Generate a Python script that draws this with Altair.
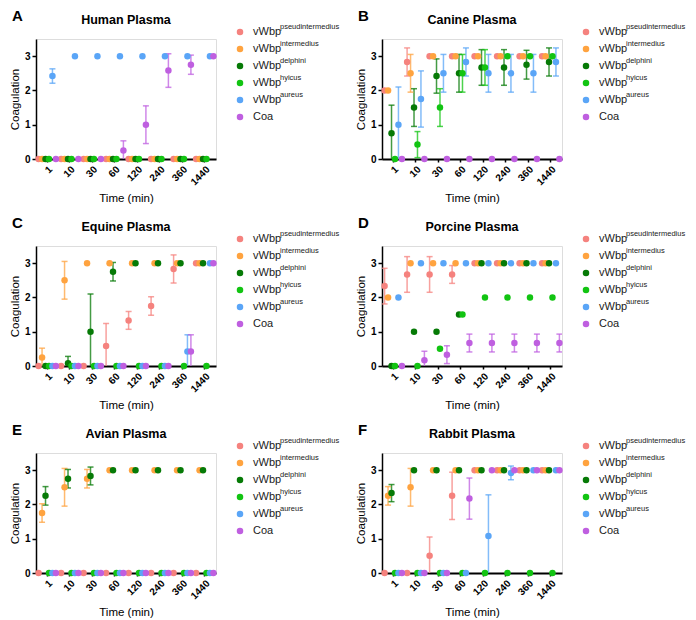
import altair as alt
import pandas as pd

FONT = "Liberation Sans"

times = ["1", "10", "30", "60", "120", "240", "360", "1440"]
series = ["pseudintermedius", "intermedius", "delphini", "hyicus", "aureus", "Coa"]
label_main = ["vWbp", "vWbp", "vWbp", "vWbp", "vWbp", "Coa"]
label_sup = ["pseudintermedius", "intermedius", "delphini", "hyicus", "aureus", ""]
colors = ["#F5827E", "#FFA33F", "#067A06", "#12C412", "#5AA5F7", "#BF5FE0"]
letters = ["A", "B", "C", "D", "E", "F"]
titles = ["Human Plasma", "Canine Plasma", "Equine Plasma",
          "Porcine Plasma", "Avian Plasma", "Rabbit Plasma"]

# rows: pseudintermedius, intermedius, delphini, hyicus, aureus, Coa ; columns: times
human_mean = [
    [0, 0, 0, 0, 0, 0, 0, 0],
    [0, 0, 0, 0, 0, 0, 0, 0],
    [0, 0, 0, 0, 0, 0, 0, 0],
    [0, 0, 0, 0, 0, 0, 0, 0],
    [2.42, 3, 3, 3, 3, 3, 3, 3],
    [0, 0, 0, 0.25, 1.0, 2.58, 2.75, 3],
]
human_err = [
    [0, 0, 0, 0, 0, 0, 0, 0],
    [0, 0, 0, 0, 0, 0, 0, 0],
    [0, 0, 0, 0, 0, 0, 0, 0],
    [0, 0, 0, 0, 0, 0, 0, 0],
    [0.21, 0, 0, 0, 0, 0, 0, 0],
    [0, 0, 0, 0.28, 0.55, 0.49, 0.28, 0],
]
canine_mean = [
    [2, 2.83, 3, 3, 3, 3, 3, 3],
    [2, 2.5, 3, 3, 3, 3, 3, 3],
    [0.75, 1.5, 2.42, 2.5, 2.67, 2.67, 2.75, 2.83],
    [0, 0.42, 1.5, 2.5, 2.67, 3, 3, 3],
    [1.0, 1.75, 2.5, 2.83, 2.5, 2.5, 2.5, 2.83],
    [0, 0, 0, 0, 0, 0, 0, 0],
]
canine_err = [
    [0, 0.41, 0, 0, 0, 0, 0, 0],
    [0, 0.55, 0, 0, 0, 0, 0, 0],
    [0.82, 0.55, 0.5, 0.55, 0.52, 0.52, 0.42, 0.41],
    [0, 0.38, 0.55, 0.55, 0.52, 0, 0, 0],
    [1.1, 0.82, 0.55, 0.41, 0.55, 0.55, 0.55, 0.41],
    [0, 0, 0, 0, 0, 0, 0, 0],
]
equine_mean = [
    [0, 0, 0, 0.58, 1.33, 1.75, 2.83, 3],
    [0.25, 2.5, 3, 3, 3, 3, 3, 3],
    [0, 0.08, 1.0, 2.75, 3, 3, 3, 3],
    [0, 0, 0, 0, 0, 0, 0, 0],
    [0, 0, 0, 0, 0, 0, 0.42, 3],
    [0, 0, 0, 0, 0, 0, 0.42, 3],
]
equine_err = [
    [0, 0, 0, 0.66, 0.26, 0.27, 0.41, 0],
    [0.27, 0.55, 0, 0, 0, 0, 0, 0],
    [0, 0.2, 1.1, 0.27, 0, 0, 0, 0],
    [0, 0, 0, 0, 0, 0, 0, 0],
    [0, 0, 0, 0, 0, 0, 0.49, 0],
    [0, 0, 0, 0, 0, 0, 0.49, 0],
]
porcine_mean = [
    [2.33, 2.67, 2.67, 2.67, 3, 3, 3, 3],
    [2, 3, 3, 3, 3, 3, 3, 3],
    [0, 1, 1, 1.5, 3, 3, 3, 3],
    [0, 0, 0.5, 1.5, 2, 2, 2, 2],
    [2, 3, 3, 3, 3, 3, 3, 3],
    [0, 0.17, 0.33, 0.67, 0.67, 0.67, 0.67, 0.67],
]
porcine_err = [
    [0.52, 0.52, 0.52, 0.26, 0, 0, 0, 0],
    [0, 0, 0, 0, 0, 0, 0, 0],
    [0, 0, 0, 0, 0, 0, 0, 0],
    [0, 0, 0, 0, 0, 0, 0, 0],
    [0, 0, 0, 0, 0, 0, 0, 0],
    [0, 0.26, 0.26, 0.26, 0.26, 0.26, 0.26, 0.26],
]
avian_mean = [
    [0, 0, 0, 0, 0, 0, 0, 0],
    [1.75, 2.5, 2.75, 3, 3, 3, 3, 3],
    [2.25, 2.75, 2.83, 3, 3, 3, 3, 3],
    [0, 0, 0, 0, 0, 0, 0, 0],
    [0, 0, 0, 0, 0, 0, 0, 0],
    [0, 0, 0, 0, 0, 0, 0, 0],
]
avian_err = [
    [0, 0, 0, 0, 0, 0, 0, 0],
    [0.27, 0.55, 0.27, 0, 0, 0, 0, 0],
    [0.27, 0.27, 0.26, 0, 0, 0, 0, 0],
    [0, 0, 0, 0, 0, 0, 0, 0],
    [0, 0, 0, 0, 0, 0, 0, 0],
    [0, 0, 0, 0, 0, 0, 0, 0],
]
rabbit_mean = [
    [0, 0, 0.5, 2.25, 3, 3, 3, 3],
    [2.25, 2.5, 3, 3, 3, 3, 3, 3],
    [2.33, 3, 3, 3, 3, 3, 3, 3],
    [0, 0, 0, 0, 0, 0, 0, 0],
    [0, 0, 0, 0, 1.08, 2.92, 3, 3],
    [0, 0, 0, 2.17, 3, 3, 3, 3],
]
rabbit_err = [
    [0, 0, 0.55, 0.69, 0, 0, 0, 0],
    [0.27, 0.55, 0, 0, 0, 0, 0, 0],
    [0.25, 0, 0, 0, 0, 0, 0, 0],
    [0, 0, 0, 0, 0, 0, 0, 0],
    [0, 0, 0, 0, 1.2, 0.2, 0, 0],
    [0, 0, 0, 0.6, 0, 0, 0, 0],
]

panels_mean = [human_mean, canine_mean, equine_mean, porcine_mean, avian_mean, rabbit_mean]
panels_err = [human_err, canine_err, equine_err, porcine_err, avian_err, rabbit_err]

W, H = 180, 120


def long_table(mean, err):
    rows = []
    for si, s in enumerate(series):
        for ti, t in enumerate(times):
            rows.append({"time": t, "series": s, "mean": mean[si][ti], "err": err[si][ti]})
    return pd.DataFrame(rows)


yscale = alt.Scale(domain=[0, 3.5], nice=False)
yaxis = alt.Axis(title="Coagulation", values=[0, 1, 2, 3], tickSize=4, grid=False,
                 domainColor="black", domainWidth=1.5, tickColor="black", tickWidth=1.5,
                 labelColor="black", labelFontWeight="bold", labelFontSize=10, labelFont=FONT,
                 titleFont=FONT, titleFontSize=11.5, titleFontWeight="normal", titleColor="black",
                 titlePadding=4, labelPadding=2)
xaxis = alt.Axis(title="Time (min)", labelAngle=-45, tickSize=3, grid=False,
                 domainColor="black", domainWidth=2, tickColor="black", tickWidth=1.5,
                 labelColor="black", labelFontWeight="bold", labelFontSize=10, labelFont=FONT,
                 titleFont=FONT, titleFontSize=11.5, titleFontWeight="normal", titleColor="black",
                 titlePadding=6, labelPadding=2)


def panel(i):
    df = long_table(panels_mean[i], panels_err[i])
    x = alt.X("time:N", sort=times,
              scale=alt.Scale(domain=times, paddingInner=0, paddingOuter=0), axis=xaxis)
    xo = alt.XOffset("series:N", sort=series,
                     scale=alt.Scale(domain=series, paddingInner=0, paddingOuter=0.25))
    col = alt.Color("series:N", scale=alt.Scale(domain=series, range=colors), legend=None)
    base = alt.Chart(df).encode(x=x, xOffset=xo, color=col)
    eb = base.transform_filter("datum.err > 0").transform_calculate(
        lo="datum.mean - datum.err", hi="datum.mean + datum.err")
    rule = eb.mark_rule(strokeWidth=1.5, opacity=0.75, clip=True).encode(
        y=alt.Y("lo:Q", scale=yscale, axis=yaxis), y2="hi:Q")
    cap1 = eb.mark_tick(orient="horizontal", size=6, thickness=1.5, opacity=0.75, clip=True).encode(
        y=alt.Y("lo:Q", scale=yscale, axis=yaxis))
    cap2 = eb.mark_tick(orient="horizontal", size=6, thickness=1.5, opacity=0.75, clip=True).encode(
        y=alt.Y("hi:Q", scale=yscale, axis=yaxis))
    pts = base.mark_circle(size=42, opacity=1).encode(
        y=alt.Y("mean:Q", scale=yscale, axis=yaxis))

    leg = pd.DataFrame({"series": series, "main": label_main, "sup": label_sup})
    ly = alt.Y("series:N", sort=series,
               scale=alt.Scale(type="point", domain=series, range=[-7, 78], padding=0), axis=None)
    lpts = alt.Chart(leg).mark_circle(size=42, opacity=1).encode(
        x=alt.value(W + 24), y=ly, color=col)
    lmain = alt.Chart(leg).mark_text(align="left", baseline="middle", font=FONT, fontSize=11,
                                     color="#1a1a1a").encode(
        x=alt.value(W + 37), y=ly, text="main:N")
    lsup = alt.Chart(leg).mark_text(align="left", baseline="middle", font=FONT, fontSize=7.5,
                                    dy=-5.5, color="#1a1a1a").encode(
        x=alt.value(W + 64), y=ly, text="sup:N")
    head = pd.DataFrame({"letter": [letters[i]], "title": [titles[i]]})
    lt = alt.Chart(head).mark_text(align="left", baseline="alphabetic", font=FONT, fontSize=15,
                                   fontWeight="bold", color="black").encode(
        x=alt.value(-24), y=alt.value(-18), text="letter:N")
    tt = alt.Chart(head).mark_text(align="center", baseline="alphabetic", font=FONT, fontSize=12.5,
                                   fontWeight="bold", color="black").encode(
        x=alt.value(W / 2), y=alt.value(-15), text="title:N")

    data_layer = alt.layer(rule, cap1, cap2, pts)
    deco = alt.layer(lpts, lmain, lsup, lt, tt)
    return alt.layer(data_layer, deco).resolve_scale(y="independent").properties(width=W, height=H)


rows = [alt.hconcat(panel(2 * r), panel(2 * r + 1), spacing=14) for r in range(3)]
chart = alt.vconcat(*rows, spacing=10).properties(
    padding={"left": 0, "top": 0, "right": 0, "bottom": 0}
).configure_view(stroke=None).configure(font=FONT)

chart.save("out.html", embed_options={"renderer": "svg", "actions": False})
